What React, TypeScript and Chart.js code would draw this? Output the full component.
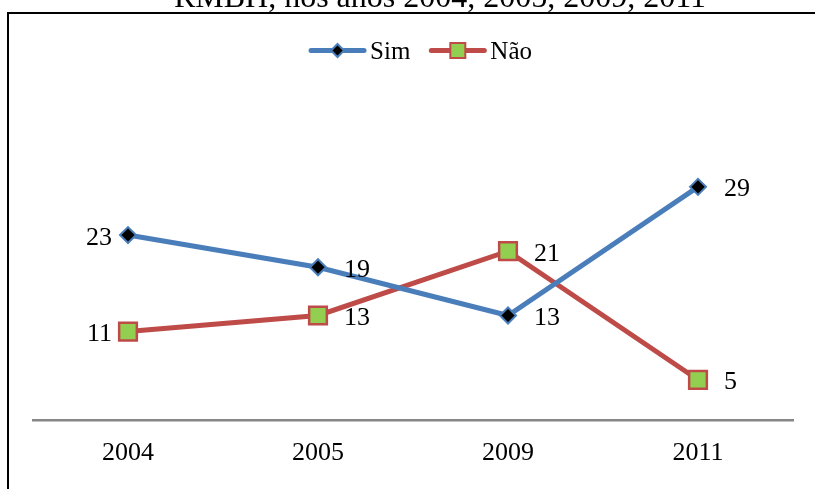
import React, { useEffect, useRef } from "react";
import { Chart, registerables } from "chart.js";

Chart.register(...registerables);

const TITLE = "RMBH, nos anos 2004, 2005, 2009, 2011";
const YEARS = ["2004", "2005", "2009", "2011"];
const SIM = [23, 19, 13, 29];
const NAO = [11, 13, 21, 5];
const SERIES_NAMES = ["Sim", "Não"];

const SERIF = "'Liberation Serif', 'Times New Roman', serif";
const BLUE = "#4A7EBB";
const RED = "#BE4B48";
const GREEN = "#92CF50";

// which side of each point its value label sits on
const SIM_LABEL_SIDE = ["left", "right", "right", "right"];
const NAO_LABEL_SIDE = ["left", "right", "right", "right"];

function drawMarker(ctx: CanvasRenderingContext2D, kind: string, x: number, y: number, r: number, fill: string, stroke: string, lw: number) {
  ctx.save();
  ctx.beginPath();
  if (kind === "diamond") {
    ctx.moveTo(x, y - r);
    ctx.lineTo(x + r, y);
    ctx.lineTo(x, y + r);
    ctx.lineTo(x - r, y);
    ctx.closePath();
  } else {
    ctx.rect(x - r, y - r, 2 * r, 2 * r);
  }
  ctx.fillStyle = fill;
  ctx.fill();
  ctx.lineWidth = lw;
  ctx.strokeStyle = stroke;
  ctx.stroke();
  ctx.restore();
}

const framePlugin = {
  id: "frame",
  beforeDraw(chart: any) {
    const ctx = chart.ctx;
    ctx.save();
    ctx.fillStyle = "#ffffff";
    ctx.fillRect(0, 0, chart.width, chart.height);
    ctx.strokeStyle = "#000000";
    ctx.lineWidth = 2;
    ctx.strokeRect(8, 13, 900, 600);
    ctx.fillStyle = "#000000";
    ctx.font = `32px ${SERIF}`;
    ctx.textAlign = "center";
    ctx.textBaseline = "alphabetic";
    ctx.fillText(TITLE, 440, 7);
    ctx.restore();
  },
};

const legendPlugin = {
  id: "lineLegend",
  afterDraw(chart: any) {
    const ctx = chart.ctx;
    ctx.save();
    ctx.font = `25px ${SERIF}`;
    const lineLen = 57;
    const gapText = 4;
    const gapItem = 19;
    const items = chart.data.datasets.map((ds: any) => ({
      label: ds.label,
      color: ds.borderColor,
      kind: ds.markerKind,
      fill: ds.pointBackgroundColor,
      stroke: ds.pointBorderColor,
      r: ds.legendMarkerSize,
      w: ctx.measureText(ds.label).width,
    }));
    const total = items.reduce((s: number, it: any) => s + lineLen + gapText + it.w, 0) + gapItem * (items.length - 1);
    let x = 420.5 - total / 2;
    const y = 50.5;
    for (const it of items) {
      ctx.strokeStyle = it.color;
      ctx.lineWidth = 5;
      ctx.lineCap = "round";
      ctx.beginPath();
      ctx.moveTo(x + 2, y);
      ctx.lineTo(x + lineLen - 2, y);
      ctx.stroke();
      drawMarker(ctx, it.kind, x + lineLen / 2, y, it.r, it.fill, it.stroke, 2);
      ctx.fillStyle = "#000000";
      ctx.textAlign = "left";
      ctx.textBaseline = "alphabetic";
      ctx.fillText(it.label, x + lineLen + gapText, y + 8.8);
      x += lineLen + gapText + it.w + gapItem;
    }
    ctx.restore();
  },
};

const valueLabelPlugin = {
  id: "valueLabels",
  afterDatasetsDraw(chart: any) {
    const ctx = chart.ctx;
    ctx.save();
    ctx.font = `26px ${SERIF}`;
    ctx.fillStyle = "#000000";
    ctx.textBaseline = "alphabetic";
    chart.data.datasets.forEach((ds: any, di: number) => {
      const meta = chart.getDatasetMeta(di);
      meta.data.forEach((pt: any, i: number) => {
        const side = ds.labelSides[i];
        const text = String(ds.data[i]);
        if (side === "left") {
          ctx.textAlign = "right";
          ctx.fillText(text, pt.x - 16, pt.y + 9.5);
        } else {
          ctx.textAlign = "left";
          ctx.fillText(text, pt.x + 26, pt.y + 9.5);
        }
      });
    });
    ctx.restore();
  },
};

export default function App() {
  const canvasRef = useRef<HTMLCanvasElement | null>(null);

  useEffect(() => {
    const canvas = canvasRef.current;
    if (!canvas) return;
    const chart = new Chart(canvas, {
      type: "line",
      data: {
        labels: YEARS,
        datasets: [
          {
            label: SERIES_NAMES[0],
            data: SIM,
            borderColor: BLUE,
            borderWidth: 5,
            pointStyle: "rectRot",
            pointRadius: 8,
            pointBackgroundColor: "#000000",
            pointBorderColor: BLUE,
            pointBorderWidth: 2,
            tension: 0,
            clip: false,
            markerKind: "diamond",
            legendMarkerSize: 6.5,
            labelSides: SIM_LABEL_SIDE,
          } as any,
          {
            label: SERIES_NAMES[1],
            data: NAO,
            borderColor: RED,
            borderWidth: 5,
            pointStyle: "rect",
            pointRadius: 12.5,
            pointBackgroundColor: GREEN,
            pointBorderColor: RED,
            pointBorderWidth: 2.5,
            tension: 0,
            clip: false,
            markerKind: "square",
            legendMarkerSize: 7.5,
            labelSides: NAO_LABEL_SIDE,
          } as any,
        ],
      },
      options: {
        responsive: false,
        animation: false,
        layout: { padding: { left: 33, right: 22, top: 138.6, bottom: 0 } },
        scales: {
          x: {
            offset: true,
            grid: { display: false, drawTicks: false },
            border: { display: true, color: "#878787", width: 2.5 },
            ticks: {
              font: { family: SERIF, size: 26 },
              color: "#000000",
              padding: 18,
            },
            afterFit: (scale: any) => {
              scale.height = 69;
            },
          },
          y: { display: false, min: 0, max: 35 },
        },
        plugins: {
          legend: { display: false },
          tooltip: { enabled: false },
          title: { display: false },
        },
      },
      plugins: [framePlugin, valueLabelPlugin, legendPlugin],
    });
    return () => chart.destroy();
  }, []);

  return (
    <div style={{ position: "fixed", left: 0, top: 0, width: 815, height: 489, background: "#ffffff" }}>
      <canvas ref={canvasRef} width={815} height={489} />
    </div>
  );
}
